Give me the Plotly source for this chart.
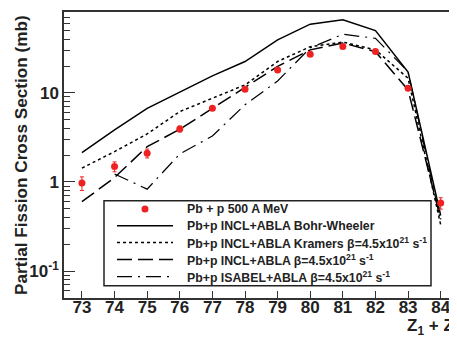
import plotly.graph_objects as go

z = [73, 74, 75, 76, 77, 78, 79, 80, 81, 82, 83, 84]
exp_sigma = [0.97, 1.49, 2.1, 3.94, 6.7, 11.0, 18.1, 27.2, 33.1, 29.1, 11.3, 0.58]
exp_err = [0.17, 0.19, 0.24, 0.3, 0.35, 0.5, 0.8, 1.2, 1.5, 1.3, 0.6, 0.085]

bohr_wheeler = [2.13, 3.84, 6.7, 10.1, 15.5, 22.5, 39.4, 59.1, 66.0, 50.0, 17.1, 0.42]
kramers = [1.43, 2.19, 3.46, 6.17, 8.7, 12.3, 22.5, 33.0, 37.2, 30.4, 14.6, 0.33]
incl_beta = [0.60, 1.12, 2.49, 3.9, 6.7, 11.4, 19.8, 30.4, 36.3, 29.0, 10.8, 0.38]
z_isabel = [74, 75, 76, 77, 78, 79, 80, 81, 82, 83, 84]
isabel_beta = [1.23, 0.83, 2.06, 3.28, 7.35, 13.6, 32.0, 45.5, 41.0, 17.3, 0.36]

names = [
    "Pb + p 500 A MeV",
    "Pb+p INCL+ABLA Bohr-Wheeler",
    "Pb+p INCL+ABLA Kramers β=4.5x10<sup>21</sup> s<sup>-1</sup>",
    "Pb+p INCL+ABLA β=4.5x10<sup>21</sup> s<sup>-1</sup>",
    "Pb+p ISABEL+ABLA β=4.5x10<sup>21</sup> s<sup>-1</sup>",
]

RED = "#ee2222"
INK = "#222"
OFF = 8  # page body margin offset
W, H = 457, 337
ML, MT = 64 - OFF, 12 - OFF
PLOT_R, PLOT_B = 457 - OFF, 298 - OFF
MR, MB = W - PLOT_R, H - PLOT_B
PW, PH = PLOT_R - ML, PLOT_B - MT


def px(xs):
    return (xs - OFF - ML) / PW


def py(ys):
    return (PLOT_B - (ys - OFF)) / PH


line_styles = [
    None,
    dict(color="black", width=1.5),
    dict(color="black", width=1.5, dash="3px,3px"),
    dict(color="black", width=1.5, dash="15px,6px"),
    dict(color="black", width=1.2, dash="15px,6px,2px,6px"),
]

fig = go.Figure()
fig.add_trace(go.Scatter(x=z, y=bohr_wheeler, mode="lines", name=names[1], line=line_styles[1]))
fig.add_trace(go.Scatter(x=z, y=kramers, mode="lines", name=names[2], line=line_styles[2]))
fig.add_trace(go.Scatter(x=z, y=incl_beta, mode="lines", name=names[3], line=line_styles[3]))
fig.add_trace(go.Scatter(x=z_isabel, y=isabel_beta, mode="lines", name=names[4], line=line_styles[4]))
fig.add_trace(go.Scatter(x=z, y=exp_sigma, mode="markers", name=names[0],
                         marker=dict(color=RED, size=7),
                         error_y=dict(type="data", array=exp_err, color=RED, thickness=1, width=2)))

# legend drawn by hand (box, samples, labels)
shapes = [dict(type="rect", xref="paper", yref="paper", x0=px(104), x1=px(431), y0=py(285.7), y1=py(200.7),
               line=dict(color=INK, width=1.5), fillcolor="white", layer="above")]
annots = []
row_y = [209, 225.7, 242.5, 259.5, 276.7]
for i, (nm, ry) in enumerate(zip(names, row_y)):
    if i == 0:
        shapes.append(dict(type="circle", xref="paper", yref="paper",
                           x0=px(141.5), x1=px(148.5), y0=py(ry + 3.5), y1=py(ry - 3.5),
                           fillcolor=RED, line=dict(color=RED, width=0), layer="above"))
    else:
        shapes.append(dict(type="line", xref="paper", yref="paper", x0=px(117), x1=px(173),
                           y0=py(ry), y1=py(ry), line=line_styles[i], layer="above"))
    annots.append(dict(xref="paper", yref="paper", x=px(185), y=py(ry), xanchor="left", yanchor="middle",
                       text=nm, showarrow=False,
                       font=dict(size=12.3, weight="bold", color=INK,
                                 family="Liberation Sans, Arial, sans-serif")))

annots.append(dict(xref="paper", yref="paper", x=px(405), y=py(327), xanchor="left", yanchor="middle",
                   text="Z<sub>1</sub> + Z<sub>2</sub>", showarrow=False,
                   font=dict(size=17, weight="bold", color=INK)))
annots.append(dict(xref="paper", yref="paper", x=px(21), y=py(155), xanchor="center", yanchor="middle",
                   text="Partial Fission Cross Section (mb)", textangle=-90, showarrow=False,
                   font=dict(size=17.2, weight="bold", color=INK)))

fig.update_layout(
    width=W, height=H,
    margin=dict(l=ML, r=MR, t=MT, b=MB, autoexpand=False),
    paper_bgcolor="white", plot_bgcolor="white",
    font=dict(family="Liberation Sans, Arial, sans-serif", color=INK),
    showlegend=False,
    shapes=shapes,
    annotations=annots,
)
fig.update_xaxes(range=[72.45, 84.5], tickmode="array", tickvals=z, ticktext=[str(v) for v in z],
                 ticks="inside", ticklen=7, tickwidth=1.2, tickcolor="#333",
                 showline=True, linecolor="#333", linewidth=1.5, mirror=True,
                 showgrid=False, zeroline=False, automargin=False, ticklabelstandoff=-7,
                 tickfont=dict(size=17, weight="bold", color=INK))
fig.update_yaxes(type="log", range=[-1.303, 1.908], tickvals=[0.1, 1, 10],
                 ticktext=["10<sup>-1</sup>", "1", "10"],
                 ticks="inside", ticklen=11, tickwidth=1.2, tickcolor="#333",
                 minor=dict(ticks="inside", ticklen=6, tickcolor="#333", dtick="D1", showgrid=False),
                 showline=True, linecolor="#333", linewidth=1.5, mirror=False,
                 showgrid=False, zeroline=False, automargin=False,
                 tickfont=dict(size=17, weight="bold", color=INK))

fig.write_html("out.html")
